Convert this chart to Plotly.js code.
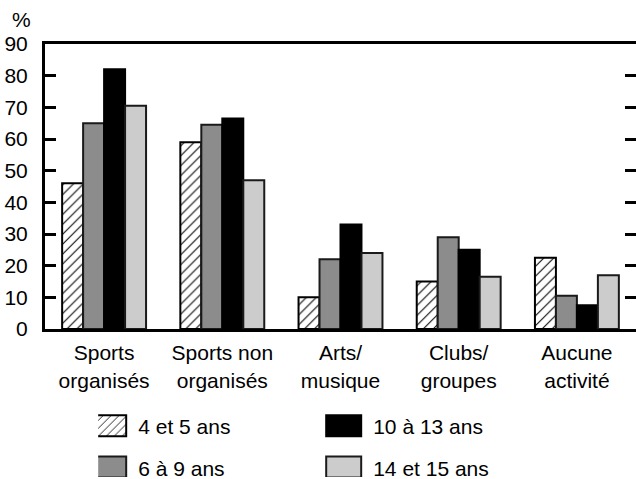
<!DOCTYPE html>
<html>
<head>
<meta charset="utf-8">
<script src="https://cdn.plot.ly/plotly-3.0.1.min.js"></script>
<style>
  html, body { margin: 0; padding: 0; background: #fff; }
  #chart { width: 636px; height: 479px; }
</style>
</head>
<body>
<div id="chart"></div>
<script>
// ---- data ----
const categories = ["Sports<br>organisés", "Sports non<br>organisés", "Arts/<br>musique", "Clubs/<br>groupes", "Aucune<br>activité"];
const seriesNames = ["4 et 5 ans", "6 à 9 ans", "10 à 13 ans", "14 et 15 ans"];
const ages4to5 = [46, 59, 10, 15, 22.5];
const ages6to9 = [65, 64.5, 22, 29, 10.5];
const ages10to13 = [82, 66.5, 33, 25, 7.5];
const ages14to15 = [70.5, 47, 24, 16.5, 17];
const yTicks = [0, 10, 20, 30, 40, 50, 60, 70, 80, 90];
const legendRanks = [1, 3, 2, 4];

const FONT = "Liberation Sans, Arial, Helvetica, sans-serif";
const FS = 21;

const traces = [
  { type: "bar", name: seriesNames[0], x: categories, y: ages4to5, legendrank: legendRanks[0],
    marker: { color: "#ffffff", line: { color: "#000000", width: 2 },
              pattern: { shape: "/", fgcolor: "#000000", bgcolor: "#ffffff", size: 7, solidity: 0.15 } } },
  { type: "bar", name: seriesNames[1], x: categories, y: ages6to9, legendrank: legendRanks[1],
    marker: { color: "#8c8c8c", line: { color: "#1a1a1a", width: 2 } } },
  { type: "bar", name: seriesNames[2], x: categories, y: ages10to13, legendrank: legendRanks[2],
    marker: { color: "#000000", line: { color: "#000000", width: 2 } } },
  { type: "bar", name: seriesNames[3], x: categories, y: ages14to15, legendrank: legendRanks[3],
    marker: { color: "#cccccc", line: { color: "#1a1a1a", width: 2 } } }
];

const layout = {
  width: 636, height: 479,
  margin: { l: 45, r: 0, t: 44, b: 150, autoexpand: false },
  paper_bgcolor: "#ffffff", plot_bgcolor: "#ffffff",
  font: { family: FONT, size: FS, color: "#000" },
  barmode: "group", bargap: 0.29, bargroupgap: 0,
  xaxis: {
    type: "category", showline: true, linewidth: 3, linecolor: "#000",
    mirror: true, ticks: "", showgrid: false, zeroline: false, automargin: false,
    tickfont: { family: FONT, size: FS, color: "#000" }, ticklabelstandoff: 3
  },
  yaxis: {
    range: [0, 90], tickvals: yTicks, ticktext: yTicks.map(String),
    showline: true, linewidth: 3, linecolor: "#000", automargin: false,
    ticks: "inside", ticklen: 11, tickwidth: 3, tickcolor: "#000",
    mirror: "ticks", showgrid: false, zeroline: false,
    tickfont: { family: FONT, size: FS, color: "#000" }, ticklabelstandoff: 10
  },
  legend: {
    orientation: "h", xanchor: "left", yanchor: "top",
    x: 0.09, y: -0.27,
    entrywidth: 190, entrywidthmode: "pixels",
    font: { family: FONT, size: FS, color: "#000" },
    bgcolor: "rgba(0,0,0,0)", traceorder: "normal"
  },
  annotations: [
    { text: "%", xref: "paper", yref: "paper", x: -0.04, y: 1.085, xanchor: "center", yanchor: "middle",
      showarrow: false, font: { family: FONT, size: FS, color: "#000" } }
  ],
  showlegend: true
};

const BIG = "M17.5,10.5H-17.5V-10.5H17.5Z";
const ROW_EXTRA = 11;
function fixLegend(gd) {
  const items = Array.from(gd.querySelectorAll("g.traces")).filter(function (g) {
    return g.querySelector("text.legendtext");
  });
  if (!items.length) return;
  // spread rows apart
  const tops = items.map(function (g) { return g.querySelector("text.legendtext").getBoundingClientRect().top; });
  const minTop = Math.min.apply(null, tops);
  items.forEach(function (g, i) {
    if (g.getAttribute("data-shifted")) return;
    if (tops[i] > minTop + 5) {
      const tf = g.getAttribute("transform") || "";
      const m = tf.match(/translate\(\s*([-\d.e]+)[ ,]+([-\d.e]+)\s*\)/);
      if (m) {
        g.setAttribute("transform", "translate(" + m[1] + "," + (parseFloat(m[2]) + ROW_EXTRA) + ")");
        g.setAttribute("data-shifted", "1");
      }
    } else {
      g.setAttribute("data-shifted", "0");
    }
  });
  // bigger legend swatches
  items.forEach(function (g) {
    const txt = g.querySelector("text.legendtext");
    const r = txt.getBoundingClientRect();
    const cx = r.left - 12 - 17.5;
    const cy = r.top + r.height / 2 - 1;
    g.querySelectorAll(".legendpoints path").forEach(function (p) {
      const M = p.parentNode.getScreenCTM();
      if (!M) return;
      const lx = (cx - M.e) / M.a;
      const ly = (cy - M.f) / M.d;
      p.setAttribute("d", BIG);
      p.setAttribute("transform", "translate(" + lx.toFixed(2) + "," + ly.toFixed(2) + ")");
    });
  });
}

Plotly.newPlot("chart", traces, layout, { displayModeBar: false, staticPlot: true }).then(function (gd) {
  fixLegend(gd);
});
</script>
</body>
</html>
